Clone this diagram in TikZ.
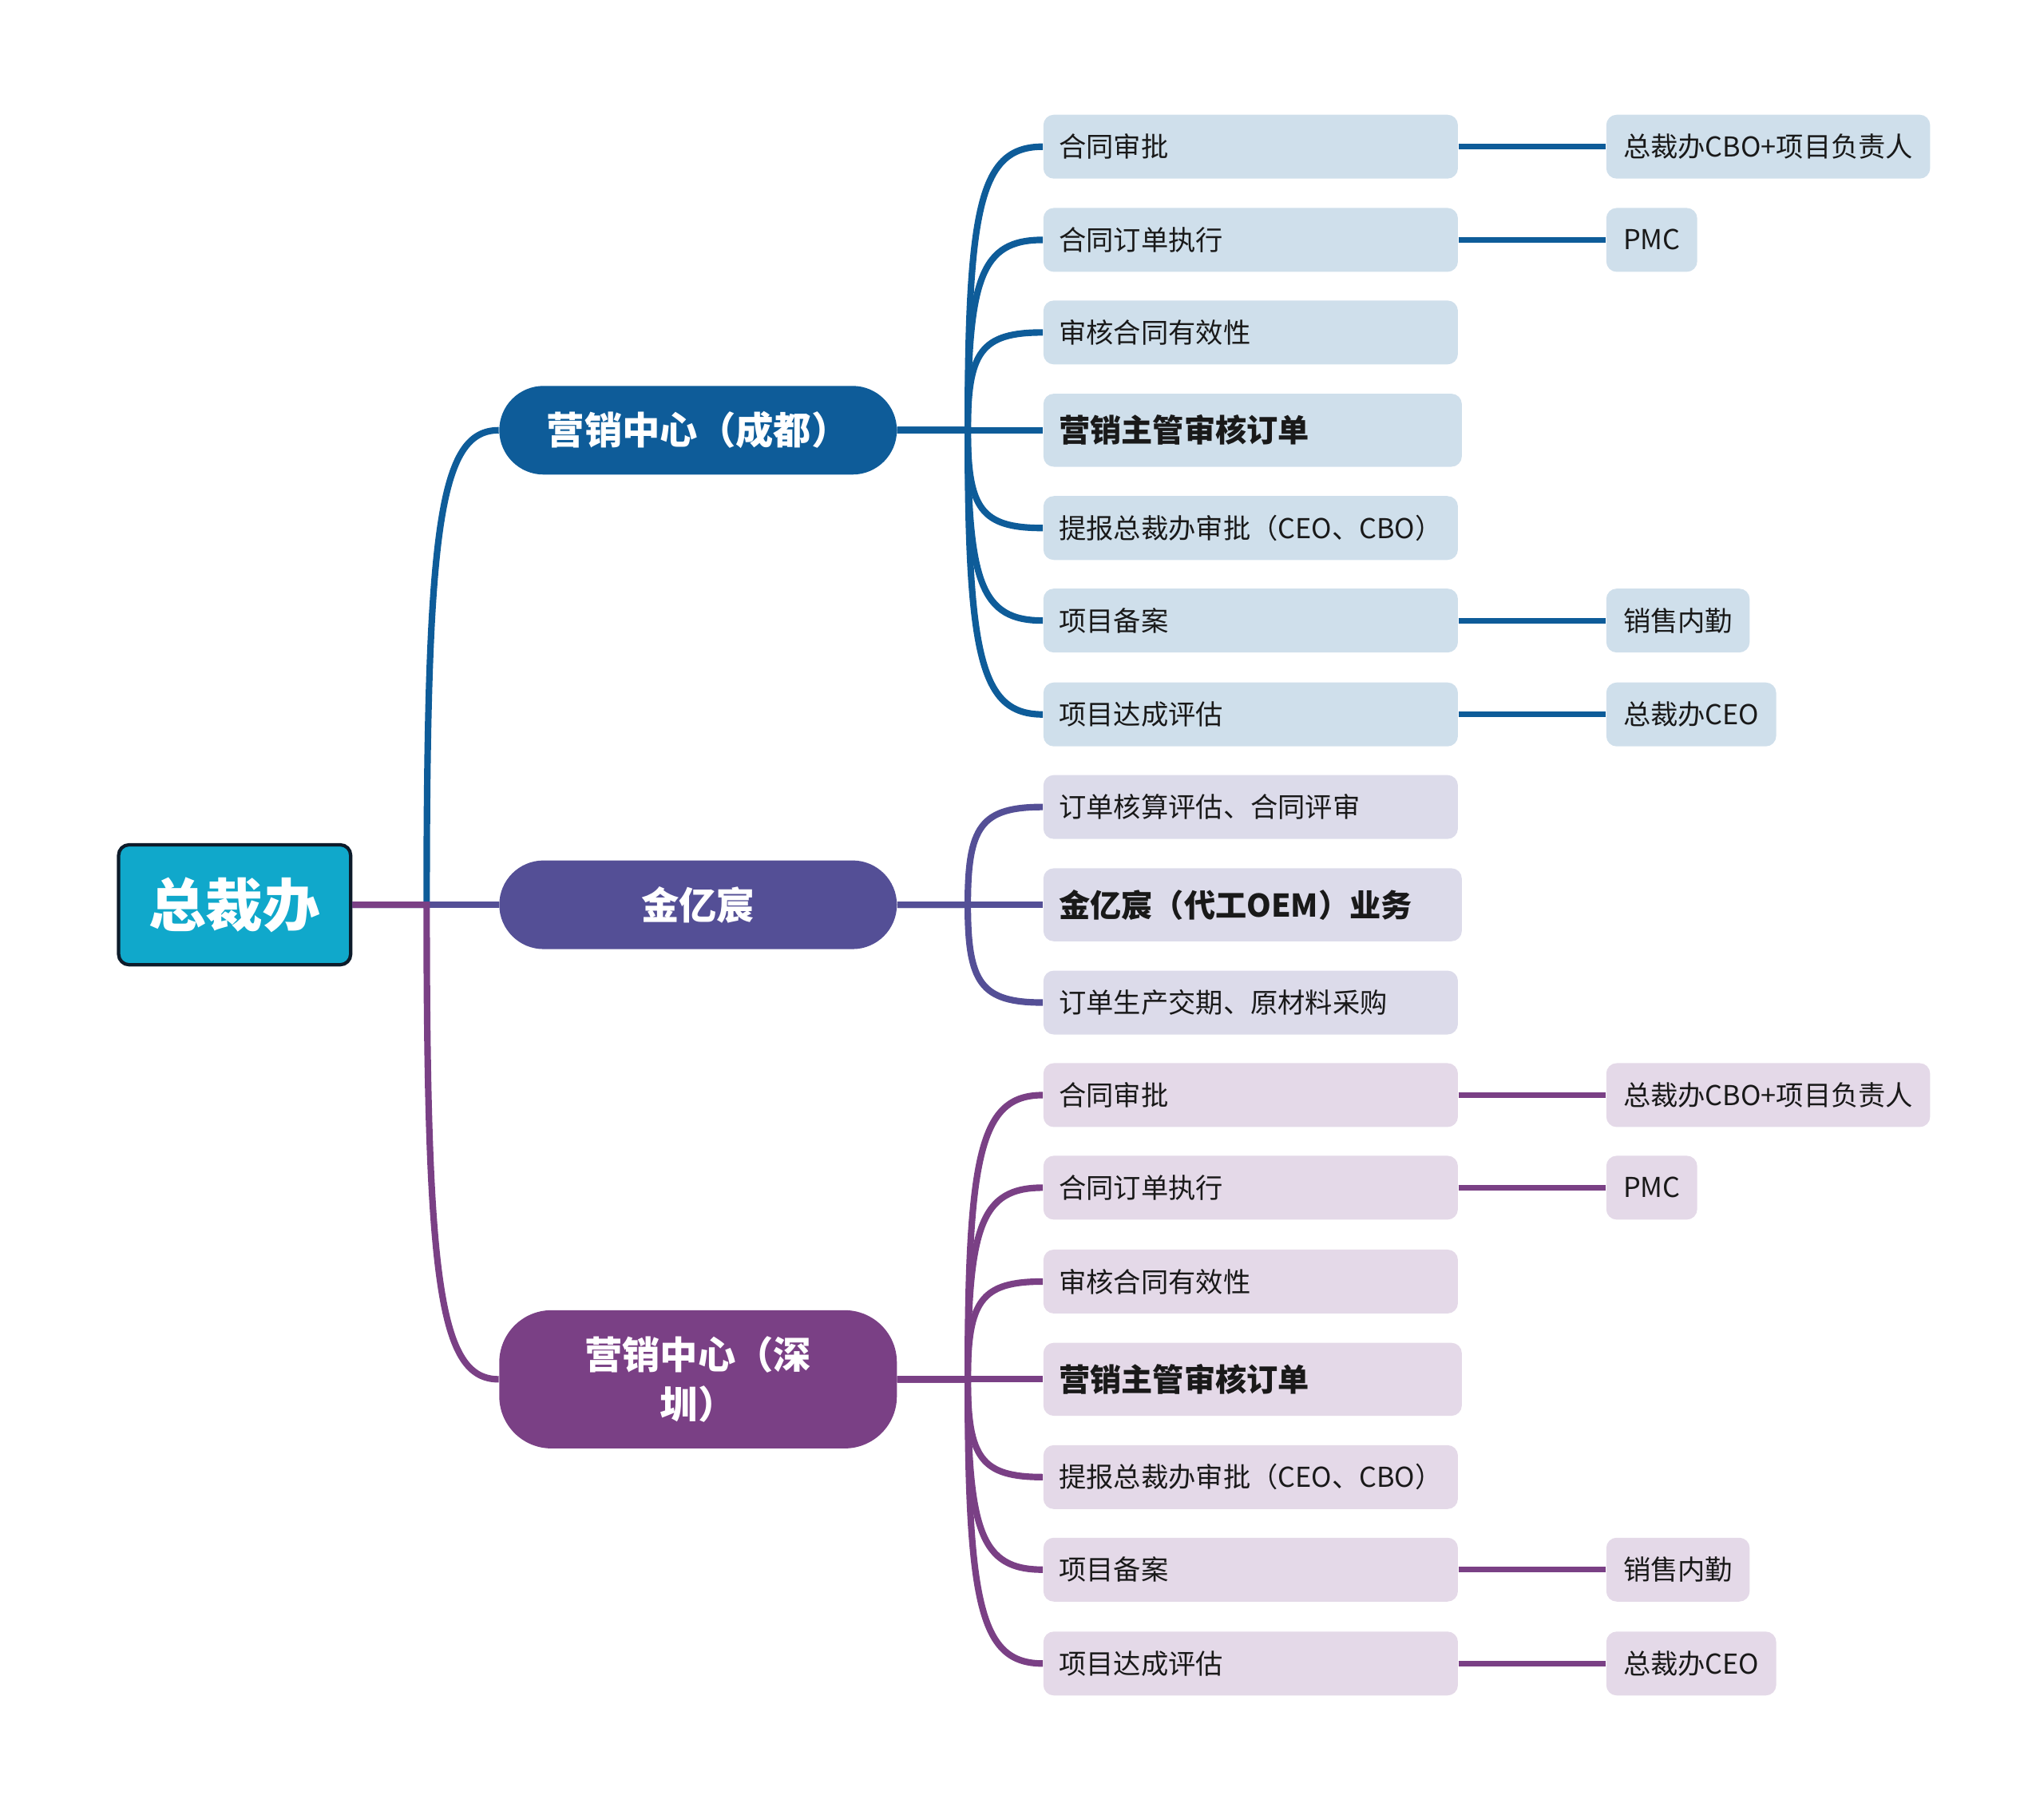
\documentclass[tikz,border=0pt]{standalone}
\usepackage{fontspec}
\setmainfont{Noto Sans CJK SC}
\usepackage{tikz}
\usetikzlibrary{calc}
\usetikzlibrary{positioning}

\definecolor{rootcyan}{HTML}{10A8CB}
\definecolor{rootline}{HTML}{0D1B2A}
\definecolor{cdblue}{HTML}{0E5C99}
\definecolor{jyviolet}{HTML}{544F96}
\definecolor{szpurple}{HTML}{7A4085}
\definecolor{cdlight}{HTML}{CFDFEB}
\definecolor{jylight}{HTML}{DCDBEA}
\definecolor{szlight}{HTML}{E4D9E8}

\begin{document}
\begin{tikzpicture}[x=0.5pt,y=-0.5pt,
	  root node/.style={rectangle,rounded corners=4pt,draw=rootline,line width=1.3pt,fill=rootcyan,text=white,font=\fontsize{22}{26}\selectfont\bfseries,minimum width=89pt,minimum height=46pt},
	  main node/.style={rectangle,rounded corners=17pt,fill=#1,text=white,font=\fontsize{14.5}{19}\selectfont\bfseries,minimum width=152.5pt,minimum height=34pt,align=center},
	  sub node/.style={rectangle,rounded corners=4pt,fill=#1,anchor=west,text=black!90,font=\fontsize{10.5}{12}\selectfont,text width=147pt,inner xsep=6pt,inner ysep=2pt,minimum height=24.5pt,align=left},
	  key node/.style={sub node=#1,font=\fontsize{12}{14}\selectfont\bfseries,text width=148.5pt,minimum height=28pt},
	  leaf node/.style={rectangle,rounded corners=4pt,fill=#1,anchor=west,text=black!90,font=\fontsize{10.5}{12}\selectfont,inner xsep=6.5pt,inner ysep=2pt,minimum height=24.5pt},
	  thick link/.style={draw=#1,line width=2.5pt},
	  thin link/.style={draw=#1,line width=2.2pt},
	  bend in/.style={to path={.. controls ($ (\tikztostart)!0.8!(\tikztostart |- \tikztotarget) $) and ($ (\tikztostart |- \tikztotarget) + (10,0) $) .. (\tikztotarget)}}]

	 \useasboundingbox (0,0) rectangle (1568,1389);

	 \node[root node] (zcb) at (180,694) {总裁办};
	 \node[main node=cdblue] (cd) at (535.5,330) {营销中心（成都）};
	 \node[main node=jyviolet] (jy) at (535.5,694) {金亿宸};
	 \node[main node=szpurple,minimum height=53pt,rounded corners=20pt] (sz) at (535.5,1058) {营销中心（深\\圳）};

	 % chengdu
	 \node[sub node=cdlight] (cd1) at (800,112.5) {合同审批};
	 \node[sub node=cdlight] (cd2) at (800,184) {合同订单执行};
	 \node[sub node=cdlight] (cd3) at (800,255) {审核合同有效性};
	 \node[key node=cdlight] (cd4) at (800,330) {营销主管审核订单};
	 \node[sub node=cdlight] (cd5) at (800,405) {提报总裁办审批（CEO、CBO）};
	 \node[sub node=cdlight] (cd6) at (800,476) {项目备案};
	 \node[sub node=cdlight] (cd7) at (800,548) {项目达成评估};
	 \node[leaf node=cdlight,minimum width=124pt] (cd1r) at ($ (cd1.east) + (113,0) $) {总裁办CBO+项目负责人};
	 \node[leaf node=cdlight,minimum width=34.5pt] (cd2r) at ($ (cd2.east) + (113,0) $) {PMC};
	 \node[leaf node=cdlight,minimum width=53pt] (cd6r) at ($ (cd6.east) + (113,0) $) {销售内勤};
	 \node[leaf node=cdlight,minimum width=63.5pt] (cd7r) at ($ (cd7.east) + (113,0) $) {总裁办CEO};

	 % jinyichen
	 \node[sub node=jylight] (jy1) at (800,619) {订单核算评估、合同评审};
	 \node[key node=jylight] (jy2) at (800,694) {金亿宸（代工OEM）业务};
	 \node[sub node=jylight] (jy3) at (800,769) {订单生产交期、原材料采购};

	 % shenzhen
	 \node[sub node=szlight] (sz1) at (800,840) {合同审批};
	 \node[sub node=szlight] (sz2) at (800,911) {合同订单执行};
	 \node[sub node=szlight] (sz3) at (800,983) {审核合同有效性};
	 \node[key node=szlight] (sz4) at (800,1058) {营销主管审核订单};
	 \node[sub node=szlight] (sz5) at (800,1133) {提报总裁办审批（CEO、CBO）};
	 \node[sub node=szlight] (sz6) at (800,1204) {项目备案};
	 \node[sub node=szlight] (sz7) at (800,1276) {项目达成评估};
	 \node[leaf node=szlight,minimum width=124pt] (sz1r) at ($ (sz1.east) + (113,0) $) {总裁办CBO+项目负责人};
	 \node[leaf node=szlight,minimum width=34.5pt] (sz2r) at ($ (sz2.east) + (113,0) $) {PMC};
	 \node[leaf node=szlight,minimum width=53pt] (sz6r) at ($ (sz6.east) + (113,0) $) {销售内勤};
	 \node[leaf node=szlight,minimum width=63.5pt] (sz7r) at ($ (sz7.east) + (113,0) $) {总裁办CEO};

	 \coordinate (trunk) at ($ (zcb.east) + (57,0) $);
	 \coordinate (cdfork) at ($ (cd.east) + (54,0) $);
	 \coordinate (jyfork) at ($ (jy.east) + (54,0) $);
	 \coordinate (szfork) at ($ (sz.east) + (54,0) $);

	 % root branches
	 \draw[thick link=cdblue] (zcb.east) -- (trunk) to[bend in] (cd.west);
	 \draw[thick link=jyviolet] (zcb.east) -- (jy.west);
	 \draw[thick link=szpurple] (zcb.east) -- (trunk) to[bend in] (sz.west);

	 % chengdu branches
	 \draw[thick link=cdblue] (cd.east) -- (cdfork) to[bend in] (cd1.west);
	 \draw[thick link=cdblue] (cd.east) -- (cdfork) to[bend in] (cd2.west);
	 \draw[thick link=cdblue] (cd.east) -- (cdfork) to[bend in] (cd3.west);
	 \draw[thick link=cdblue] (cd.east) -- (cd4.west);
	 \draw[thick link=cdblue] (cd.east) -- (cdfork) to[bend in] (cd5.west);
	 \draw[thick link=cdblue] (cd.east) -- (cdfork) to[bend in] (cd6.west);
	 \draw[thick link=cdblue] (cd.east) -- (cdfork) to[bend in] (cd7.west);
	 \path[thin link=cdblue]
	    (cd1) edge (cd1r)
	    (cd2) edge (cd2r)
	    (cd6) edge (cd6r)
	    (cd7) edge (cd7r)
;

	 % jinyichen branches
	 \draw[thick link=jyviolet] (jy.east) -- (jyfork) to[bend in] (jy1.west);
	 \draw[thick link=jyviolet] (jy.east) -- (jy2.west);
	 \draw[thick link=jyviolet] (jy.east) -- (jyfork) to[bend in] (jy3.west);

	 % shenzhen branches
	 \draw[thick link=szpurple] (sz.east) -- (szfork) to[bend in] (sz1.west);
	 \draw[thick link=szpurple] (sz.east) -- (szfork) to[bend in] (sz2.west);
	 \draw[thick link=szpurple] (sz.east) -- (szfork) to[bend in] (sz3.west);
	 \draw[thick link=szpurple] (sz.east) -- (sz4.west);
	 \draw[thick link=szpurple] (sz.east) -- (szfork) to[bend in] (sz5.west);
	 \draw[thick link=szpurple] (sz.east) -- (szfork) to[bend in] (sz6.west);
	 \draw[thick link=szpurple] (sz.east) -- (szfork) to[bend in] (sz7.west);
	 \path[thin link=szpurple]
	    (sz1) edge (sz1r)
	    (sz2) edge (sz2r)
	    (sz6) edge (sz6r)
	    (sz7) edge (sz7r)
;
	\end{tikzpicture}
\end{document}
